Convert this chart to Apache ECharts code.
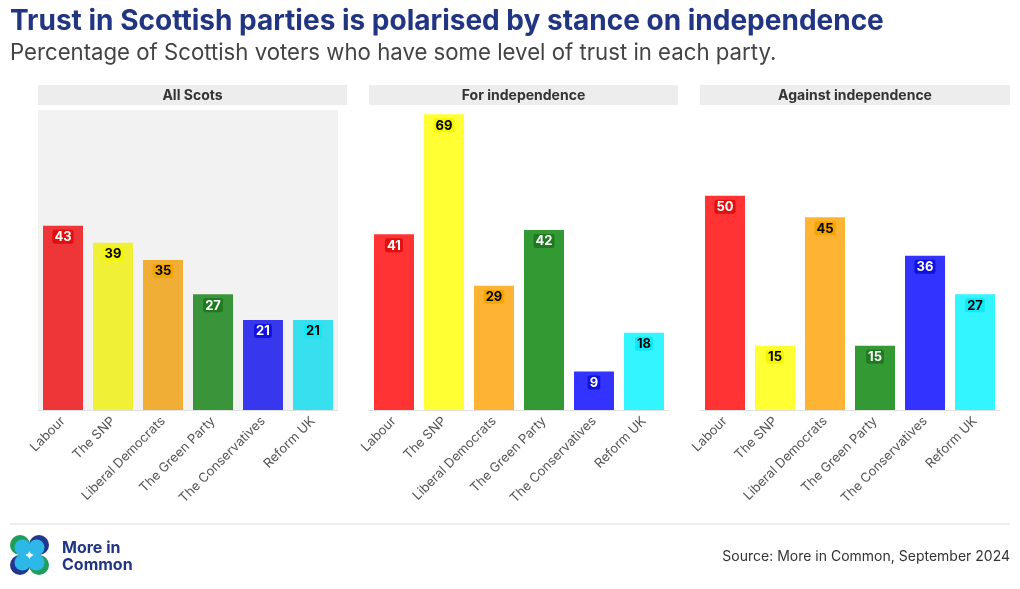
<!DOCTYPE html>
<html><head><meta charset="utf-8">
<script src="https://cdn.jsdelivr.net/npm/echarts@6/dist/echarts.min.js"></script>
<style>html,body{margin:0;padding:0;background:#fff}#c{width:1020px;height:589px}</style>
</head><body><div id="c"></div>
<script>
const categories = ['Labour','The SNP','Liberal Democrats','The Green Party','The Conservatives','Reform UK'];
const panelTitles = ['All Scots','For independence','Against independence'];
const allScots = [43,39,35,27,21,21];
const forIndep = [41,69,29,42,9,18];
const againstIndep = [50,15,45,15,36,27];
const colorsAll = ['#EE3537','#F0F037','#F0AE37','#3A943A','#3737EE','#37E0EE'];
const colorsMain = ['#FF3333','#FFFF33','#FFB333','#339933','#3333FF','#33F5FF'];
const labelBg = ['#E01010','#F5F500','#F5A500','#1F7A1F','#1010E0','#10E8F5'];
const labelText = ['#fff','#000','#000','#fff','#fff','#000'];

const chart = echarts.init(document.getElementById('c'));
const panels = [allScots, forIndep, againstIndep];
const lefts = [38, 369, 700];
const stripX = [[38,347],[369,678],[700,1010]];

const grids = lefts.map((l,i)=>({left:l, width:300, top:110, height:300,
  show: i===0, backgroundColor:'#f2f2f2', borderWidth:0}));
const xAxes = panels.map((p,i)=>({type:'category', gridIndex:i, data:categories,
  axisLine:{lineStyle:{color:'#e0e0e0'}},
  axisTick:{alignWithLabel:true, length:4, lineStyle:{color:'#e0e0e0'}},
  axisLabel:{rotate:45, color:'#555', fontSize:13, fontFamily:'Inter', margin:9, interval:0}}));
const yAxes = panels.map((p,i)=>({type:'value', gridIndex:i, min:0, max:70, show:false, splitLine:{show:false}}));
const series = panels.map((p,i)=>({type:'bar', xAxisIndex:i, yAxisIndex:i, barCategoryGap:'20%',
  data: p.map((v,j)=>({value:v, itemStyle:{color:(i===0?colorsAll:colorsMain)[j]},
    label:{color:labelText[j], backgroundColor:labelBg[j]}})),
  label:{show:true, position:'insideTop', distance:4, fontWeight:'bold', fontSize:13, fontFamily:'Inter',
    padding:[1,2,0,2], borderRadius:2},
  silent:true, animation:false}));

const graphic = [];
stripX.forEach((s,i)=>{
  graphic.push({type:'rect', shape:{x:s[0], y:85, width:s[1]-s[0], height:20}, style:{fill:'#ededed'}});
  graphic.push({type:'text', x:(s[0]+s[1])/2, y:95.5, style:{text:panelTitles[i], fill:'#333', font:'bold 14px Inter', textAlign:'center', textVerticalAlign:'middle'}});
});
graphic.push({type:'text', left:10, top:8, style:{text:'Trust in Scottish parties is polarised by stance on independence', fill:'#213582', font:'bold 28px Inter'}});
graphic.push({type:'text', left:10, top:42, style:{text:'Percentage of Scottish voters who have some level of trust in each party.', fill:'#444', font:'22.2px Inter'}});
graphic.push({type:'line', shape:{x1:10,y1:524,x2:1010,y2:524}, style:{stroke:'#dddddd', lineWidth:1}});
graphic.push({type:'text', right:10, top:550, style:{text:'Source: More in Common, September 2024', fill:'#333', font:'14px Inter', textAlign:'right'}});
graphic.push({type:'text', left:62, top:540, style:{text:'More in\nCommon', fill:'#213582', font:'bold 16px Inter', lineHeight:17}});
// logo
const lc = [[20,545,'#1E9E5A',1,1],[39,545,'#22358F',-1,1],[20,565,'#22358F',1,-1],[39,565,'#1E9E5A',-1,-1]];
lc.forEach(c=>graphic.push({type:'circle', shape:{cx:c[0],cy:c[1],r:10}, style:{fill:c[2]}}));
lc.forEach(c=>graphic.push({type:'circle', shape:{cx:c[0]+c[3]*2.5,cy:c[1]+c[4]*2.5,r:8}, style:{fill:'#2DB8E8'}}));

chart.setOption({animation:false, grid:grids, xAxis:xAxes, yAxis:yAxes, series:series, graphic:graphic});
</script></body></html>
